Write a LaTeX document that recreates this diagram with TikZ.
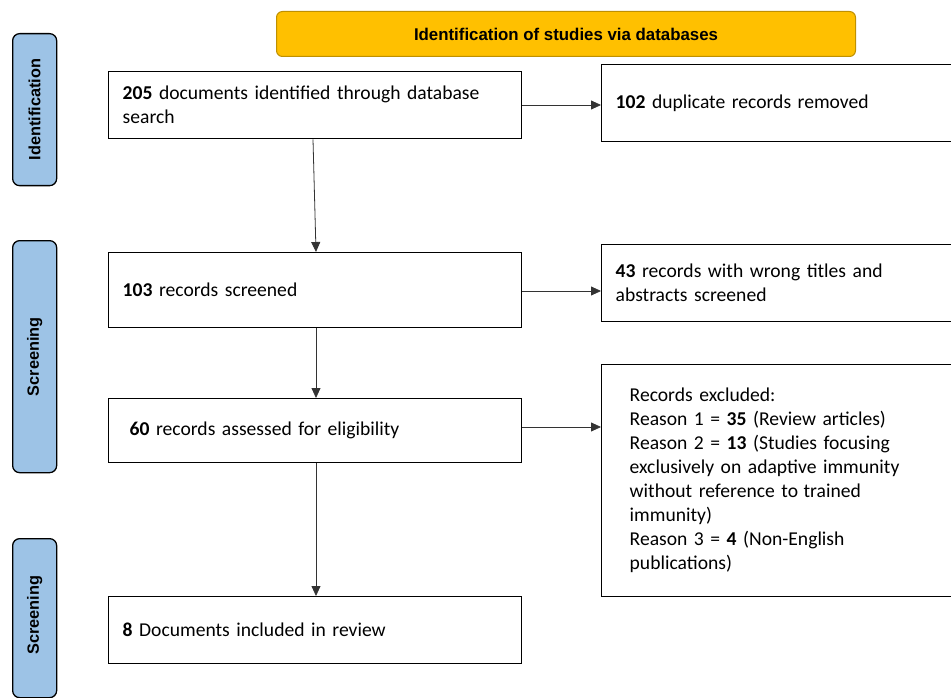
\documentclass[tikz,border=0pt]{standalone}
\usepackage{fontspec}
\setmainfont{Carlito}
\newfontfamily\arialb{Liberation Sans}
\usetikzlibrary{arrows.meta}
\definecolor{hdrfill}{HTML}{FFC000}
\definecolor{hdrdraw}{HTML}{BF9000}
\definecolor{sidefill}{HTML}{9DC3E6}
\tikzset{
  box/.style={draw=black, line width=1.4pt, anchor=north west, inner xsep=0pt, inner ysep=0pt,
    align=left, font=\fontsize{19.6}{24}\selectfont},
  side/.style={draw=black, line width=1.3pt, fill=sidefill, rounded corners=7pt, anchor=north west,
    minimum width=44pt, inner sep=0pt},
  sidetext/.style={rotate=90, font=\arialb\bfseries\fontsize{16.3}{18}\selectfont},
  conn/.style={-{Triangle[length=10pt,width=9pt]}, line width=0.8pt, draw=black!80},
}
\begin{document}
\begin{tikzpicture}[x=1pt,y=-1pt]
\useasboundingbox (0,0) rectangle (951,698);
% header
\node[draw=hdrdraw, line width=1pt, fill=hdrfill, rounded corners=6pt, anchor=north west,
  minimum width=579pt, minimum height=45pt, inner sep=0pt,
  font=\arialb\bfseries\fontsize{17}{18}\selectfont] (hdr) at (276,11)
  {\scalebox{0.99}[1]{Identification of studies via databases}};
% side bars
\node[side, minimum height=152pt] (s1) at (12,33) {};
\node[sidetext] (s1t) at (s1.center) {Identification};
\node[side, minimum height=232pt] (s2) at (12,240) {};
\node[sidetext] (s2t) at (s2.center) {Screening};
\node[side, minimum height=159pt] (s3) at (12,538) {};
\node[sidetext] (s3t) at ([yshift=3pt]s3.center) {Screening};
% left boxes
\node[box, minimum width=413pt, minimum height=67pt, text width=385pt] (a) at (108,71)
  {\textbf{205} documents identified through database\\search};
\node[box, minimum width=413pt, minimum height=75pt, text width=385pt] (c) at (108,252)
  {\textbf{103} records screened};
\node[box, minimum width=413pt, minimum height=64pt, text width=385pt] (e) at (108,398)
  {\hspace*{7pt}\textbf{60} records assessed for eligibility};
\node[box, minimum width=413pt, minimum height=67pt, text width=385pt] (g) at (108,596)
  {\textbf{8} Documents included in review};
% right boxes
\node[box, minimum width=360pt, minimum height=77pt, text width=340pt] (b) at (601,64)
  {\hspace*{4pt}\textbf{102} duplicate records removed};
\node[box, minimum width=360pt, minimum height=77pt, text width=340pt] (d) at (601,244)
  {\hspace*{4pt}\textbf{43} records with wrong titles and\\\hspace*{4pt}abstracts screened};
\node[box, minimum width=360pt, minimum height=232pt, text width=340pt] (f) at (601,364)
  {\hspace*{18pt}Records excluded:\\
   \hspace*{18pt}Reason 1 = \textbf{35} (Review\ articles)\\
   \hspace*{18pt}Reason 2 = \textbf{13} (Studies focusing\\
   \hspace*{18pt}exclusively on adaptive immunity\\
   \hspace*{18pt}without reference to\kern-1pt\ trained\\
   \hspace*{18pt}immunity)\\
   \hspace*{18pt}Reason 3 = \textbf{4} (Non-English\\
   \hspace*{18pt}publications)};
% connectors
\draw[conn] (a.east |- 0,105) -- (b.west |- 0,105);
\draw[conn] (c.east |- 0,291) -- (d.west |- 0,291);
\draw[conn] (e.east |- 0,427) -- (f.west |- 0,427);
\draw[conn] (a.south -| 313,0) -- (c.north -| 316,0);
\draw[conn] (c.south -| 316,0) -- (e.north -| 316,0);
\draw[conn] (e.south -| 316,0) -- (g.north -| 316,0);
\end{tikzpicture}
\end{document}
